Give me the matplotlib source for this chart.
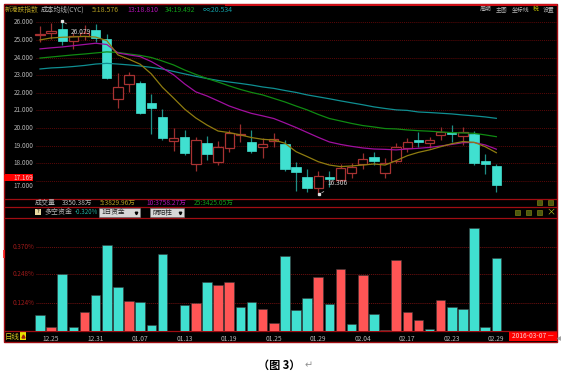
"""Recreates the stock cost-average (CYC) candlestick screenshot with money-flow bars."""

import matplotlib

matplotlib.use("Agg")
import matplotlib.pyplot as plt
from matplotlib.patches import Rectangle

plt.rcParams["font.family"] = ["Noto Sans CJK SC", "DejaVu Sans"]

W, H = 561, 381

# candle values, one entry per session
opens = [25.3, 25.38, 25.64, 24.92, 25.22, 25.56, 25.07, 21.63, 22.48, 22.53, 21.41, 20.65, 19.28, 19.51,
         17.95, 19.14, 18.08, 18.89, 19.6, 19.19, 18.94, 19.27, 19.08, 17.78, 17.21, 16.58, 17.21, 17.05,
         17.47, 17.95, 18.34, 17.43, 18.15, 18.89, 19.34, 19.14, 19.59, 19.78, 19.57, 19.68, 18.13, 17.83]
closes = [25.32, 25.52, 24.92, 25.22, 25.4, 25.13, 22.86, 22.31, 23.03, 20.87, 21.12, 19.42, 19.42, 18.6,
          19.31, 18.51, 18.91, 19.7, 19.65, 18.7, 19.08, 19.38, 17.7, 17.49, 16.62, 17.3, 17.09, 17.75,
          17.79, 18.26, 18.12, 18.04, 18.91, 19.23, 19.23, 19.31, 19.8, 19.68, 19.76, 18.0, 17.98, 16.77]
highs = [25.8, 25.98, 26.07, 25.4, 25.85, 25.9, 25.32, 23.1, 23.2, 22.67, 21.92, 21.07, 19.99, 19.89,
         19.51, 19.55, 19.28, 19.89, 20.23, 19.89, 19.42, 19.74, 19.32, 18.09, 17.66, 17.58, 17.57, 17.95,
         18.04, 18.57, 18.64, 18.29, 19.14, 19.46, 19.8, 19.51, 20.08, 20.18, 20.04, 19.85, 18.53, 17.96]
lows = [24.9, 25.04, 24.7, 24.5, 25.0, 24.9, 22.77, 21.12, 22.06, 20.79, 19.66, 19.32, 18.72, 18.47,
        17.58, 18.19, 17.89, 18.66, 19.23, 18.6, 18.29, 18.94, 17.58, 16.43, 16.39, 16.31, 16.68, 17.0,
        17.15, 17.68, 17.9, 17.15, 18.04, 18.64, 18.94, 18.85, 19.32, 19.23, 19.04, 17.9, 17.4, 16.39]

# cost average lines
cyc5 = [25.0, 25.11, 25.15, 25.17, 25.2, 25.16, 24.96, 24.15, 23.9, 23.62, 23.07, 22.31, 21.7, 21.07,
        20.57, 20.17, 19.83, 19.74, 19.61, 19.46, 19.36, 19.32, 19.14, 18.66, 18.38, 18.09, 17.9, 17.81,
        17.85, 17.9, 17.96, 17.9, 18.15, 18.43, 18.62, 18.76, 18.94, 19.11, 19.23, 19.19, 18.94, 18.6]
cyc13 = [24.49, 24.55, 24.6, 24.67, 24.74, 24.81, 24.74, 24.26, 24.15, 24.05, 23.77, 23.41, 23.02, 22.5,
         22.05, 21.82, 21.54, 21.25, 21.03, 20.83, 20.69, 20.54, 20.29, 20.03, 19.75, 19.47, 19.21, 19.07,
         18.96, 18.87, 18.81, 18.79, 18.76, 18.81, 18.85, 18.9, 18.98, 19.07, 19.17, 19.18, 19.04, 18.8]
cyc34 = [23.97, 24.03, 24.09, 24.15, 24.2, 24.26, 24.32, 24.29, 24.2, 24.12, 24.0, 23.8, 23.58, 23.29,
         23.04, 22.81, 22.61, 22.39, 22.19, 22.02, 21.88, 21.68, 21.48, 21.25, 21.03, 20.77, 20.54, 20.4,
         20.26, 20.14, 20.06, 19.97, 19.95, 19.89, 19.85, 19.82, 19.78, 19.74, 19.72, 19.7, 19.61, 19.51]
cyc_inf = [23.35, 23.41, 23.44, 23.49, 23.55, 23.63, 23.67, 23.63, 23.58, 23.52, 23.44, 23.35, 23.21, 23.07,
           22.93, 22.81, 22.7, 22.61, 22.53, 22.44, 22.33, 22.25, 22.13, 22.02, 21.88, 21.77, 21.66, 21.54,
           21.43, 21.32, 21.2, 21.11, 21.03, 21.0, 20.91, 20.88, 20.84, 20.8, 20.74, 20.69, 20.63, 20.55]

# money-flow bars, 1 = red, 0 = cyan
flow = [0.070, 0.019, 0.251, 0.019, 0.082, 0.159, 0.378, 0.191, 0.133, 0.126, 0.026, 0.337, 0.0, 0.115,
        0.124, 0.215, 0.200, 0.213, 0.107, 0.126, 0.098, 0.034, 0.330, 0.092, 0.143, 0.235, 0.120, 0.271,
        0.032, 0.247, 0.073, 0.006, 0.309, 0.082, 0.047, 0.010, 0.137, 0.107, 0.095, 0.450, 0.019, 0.321]
flow_red = [0, 1, 0, 0, 1, 0, 0, 0, 1, 0, 0, 0, 0, 0, 1, 0, 1, 1, 0, 0, 1, 1, 0, 0, 0, 1, 0, 1,
            0, 1, 0, 1, 1, 1, 1, 0, 1, 0, 0, 0, 0, 0]

price_ticks = [26, 25, 24, 23, 22, 21, 20, 19, 18, 17]
flow_ticks = [0.124, 0.248, 0.370]
flow_labels = ["0.124%", "0.248%", "0.370%"]
date_labels = ["12.25", "12.31", "01.07", "01.13", "01.19", "01.25", "01.29", "02.04", "02.17", "02.23", "02.29"]
date_pos = [1, 5, 9, 13, 17, 21, 25, 29, 33, 37, 41]

CYAN = "#40e0d0"
RED = "#ff5555"
GRID = "#5a0808"
BORDER = "#a00d12"
GREY = "#b4b4b4"


def px_axes(fig, left, top, right, bottom):
    return fig.add_axes([left / W, 1 - bottom / H, (right - left) / W, (bottom - top) / H])


def hide_frame(ax):
    ax.set_xticks([])
    ax.set_yticks([])
    for s in ax.spines.values():
        s.set_visible(False)


def draw_candles(ax):
    for i in range(len(opens)):
        up = closes[i] >= opens[i]
        wick = "#9a2f2f" if up else "#1f8f86"
        ax.vlines(i, lows[i], highs[i], color=wick, lw=0.9, zorder=2)
        lo, hi = min(opens[i], closes[i]), max(opens[i], closes[i])
        if up:
            ax.add_patch(Rectangle((i - 0.42, lo), 0.84, hi - lo, fc="black", ec="#a83232", lw=0.9, zorder=3))
        else:
            ax.add_patch(Rectangle((i - 0.42, lo), 0.84, hi - lo, fc=CYAN, ec=CYAN, lw=0.5, zorder=3))


fig = plt.figure(figsize=(W / 100, H / 100), dpi=100, facecolor="white")

# black terminal background, pixel coordinates
bg = fig.add_axes([0, 0, 1, 1])
bg.set_xlim(0, W)
bg.set_ylim(H, 0)
bg.axis("off")
bg.add_patch(Rectangle((4, 4), 553.5, 337.5, fc="black", ec=BORDER, lw=1))
bg.hlines([198.5, 206.5, 217.5], 4, 557, color=BORDER, lw=0.9)
bg.hlines(331, 4, 557, color=BORDER, lw=0.9)
bg.hlines(4.5, 225, 557, color="#d01018", lw=1.4)
bg.vlines(4.5, 250, 258, color="#ff2020", lw=1.2)
bg.plot(559, 338, marker="<", ms=2.5, color="#a0a0a0", clip_on=False)

# price panel
ax = px_axes(fig, 4.5, 5, 557, 198)
ax.patch.set_alpha(0)
ax.set_xlim(-3.19, 46.45)
ax.set_ylim(16.03, 26.98)
hide_frame(ax)
ax.hlines(price_ticks, -0.4, 46.4, color=GRID, lw=0.7, linestyles=(0, (1, 1)), zorder=1)
for p in price_ticks:
    # the 17.000 label sits just under the last-price box
    ax.text(-0.6, p - 0.05 if p == 17 else p, f"{p}.000", color=GREY, fontsize=4.6, ha="right",
            va="top" if p == 17 else "center")
draw_candles(ax)
x = range(len(opens))
ax.plot(x, cyc_inf, color="#0f8f92", lw=0.9, zorder=4)
ax.plot(x, cyc34, color="#0f8a12", lw=0.9, zorder=4)
ax.plot(x, cyc13, color="#a010a0", lw=0.9, zorder=4)
ax.plot(x, cyc5, color="#8f7c10", lw=0.9, zorder=4)
ax.annotate("26.079", xy=(2.0, 26.05), xytext=(2.75, 25.45), color="#d0d0d0", fontsize=4.8, va="center",
            arrowprops=dict(arrowstyle="-", color="#b0b0b0", lw=0.6), zorder=6)
ax.annotate("16.306", xy=(25.1, 16.25), xytext=(25.85, 16.86), color="#d0d0d0", fontsize=4.8, va="center",
            arrowprops=dict(arrowstyle="-", color="#b0b0b0", lw=0.6), zorder=6)
ax.plot([2.0, 25.1], [26.05, 16.25], ls="none", marker="s", ms=1.4, color="#e0e0e0", zorder=6)

# money-flow panel
ax2 = px_axes(fig, 4.5, 217, 557, 331)
ax2.patch.set_alpha(0)
ax2.set_xlim(-3.19, 46.45)
ax2.set_ylim(0, 0.4995)
hide_frame(ax2)
ax2.hlines(flow_ticks, -0.4, 46.4, color="#701010", lw=0.7, linestyles=(0, (1, 1)), zorder=1)
for t, lab in zip(flow_ticks, flow_labels):
    ax2.text(-0.45, t, lab, color="#9a1a1a", fontsize=4.6, ha="right", va="center")
colors = [RED if r else CYAN for r in flow_red]
ax2.bar(range(len(flow)), flow, width=0.86, color=colors, edgecolor="#3a3a3a", lw=0.4, zorder=2)

# header row
bg.text(5, 9.5, "新港跌指数", color="#b09a20", fontsize=4.9, va="center")
bg.text(41, 9.5, "成本均线(CYC)", color=GREY, fontsize=4.9, va="center")
bg.text(92, 9.5, "5:18.576", color="#b09a20", fontsize=5, va="center")
bg.text(127, 9.5, "13:18.810", color="#b010b0", fontsize=5, va="center")
bg.text(165, 9.5, "34:19.492", color="#109a18", fontsize=5, va="center")
bg.text(203, 9.5, "∞:20.534", color="#109aa0", fontsize=5, va="center")
for tx, lab, col in [(480, "周期", GREY), (496, "主图", GREY), (512, "坐标线", GREY), (533, "税", "#c0c000"), (543, "设置", GREY)]:
    bg.text(tx, 9.5, lab, color=col, fontsize=4.2, va="center")

# last price box
bg.add_patch(Rectangle((4.5, 174.5), 29, 6.5, fc="#ff0000", ec="none", zorder=8))
ax.set_zorder(bg.get_zorder() + 1)
ax.text(-0.6, 17.169, "17.169", color="#f0d0d0", fontsize=4.6, ha="right", va="center", zorder=9)
ax.add_patch(Rectangle((-3.19, 17.0), 2.6, 0.37, fc="#ff0000", ec="none", zorder=8))

# volume row
bg.text(35, 202.5, "成交量", color=GREY, fontsize=5.0, va="center")
bg.text(62, 202.5, "3350.38万", color=GREY, fontsize=4.8, va="center")
bg.text(100, 202.5, "5:3829.96万", color="#b09a20", fontsize=4.8, va="center")
bg.text(146, 202.5, "10:3758.27万", color="#b010b0", fontsize=4.8, va="center")
bg.text(194, 202.5, "25:3425.05万", color="#109a18", fontsize=4.8, va="center")

# money-flow row
bg.add_patch(Rectangle((35, 208.5), 6, 6, fc="#e8d8a0", ec="none"))
bg.text(38, 211.5, "?", color="black", fontsize=4, ha="center", va="center")
bg.text(44, 212, "多空资金", color=GREY, fontsize=5.0, va="center")
bg.text(75, 212, "-0.320%", color="#20b0a0", fontsize=4.4, va="center")
for bx, bw, lab in [(99, 41, "1日资金"), (150, 34, "阴阳柱")]:
    bg.add_patch(Rectangle((bx, 208), bw, 9, fc="#d8d8d8", ec="#808080", lw=0.4))
    bg.text(bx + 2, 212.5, lab, color="#202020", fontsize=4.8, va="center")
    bg.plot(bx + bw - 4, 212.5, marker="v", ms=1.8, color="black")

# tool icons on the right
for ix, iy in [(540, 202.5), (551, 202.5), (518, 212), (529, 212), (540, 212)]:
    bg.add_patch(Rectangle((ix - 2.5, iy - 2.5), 5, 5, fc="#4a5a10", ec="#807a10", lw=0.5))
bg.text(551, 212, "×", color="#b0c020", fontsize=6.5, ha="center", va="center")

# date strip
for d, lab in zip(date_pos, date_labels):
    ax2.text(d, -0.033, lab, color=GREY, fontsize=4.8, ha="center", va="center", clip_on=False)
bg.text(5, 336.5, "日线", color="#d8c820", fontsize=5.4, va="center")
bg.add_patch(Rectangle((20.5, 332), 5.5, 8, fc="#e8e000", ec="none"))
bg.plot(23.2, 336, marker="^", ms=2.2, color="#a02010")
bg.add_patch(Rectangle((509, 332), 48, 9, fc="#ff0000", ec="none"))
bg.text(512, 336.5, "2016-03-07 —", color="#f4d0d0", fontsize=4.8, va="center")

# caption below the screenshot
bg.text(258, 365, "（图 3）", color="black", fontsize=8, fontweight="bold", va="center")
bg.text(305, 365, "↵", color="#909090", fontsize=7, va="center")

fig.savefig("out.png", dpi=100, facecolor="white")
plt.close(fig)
